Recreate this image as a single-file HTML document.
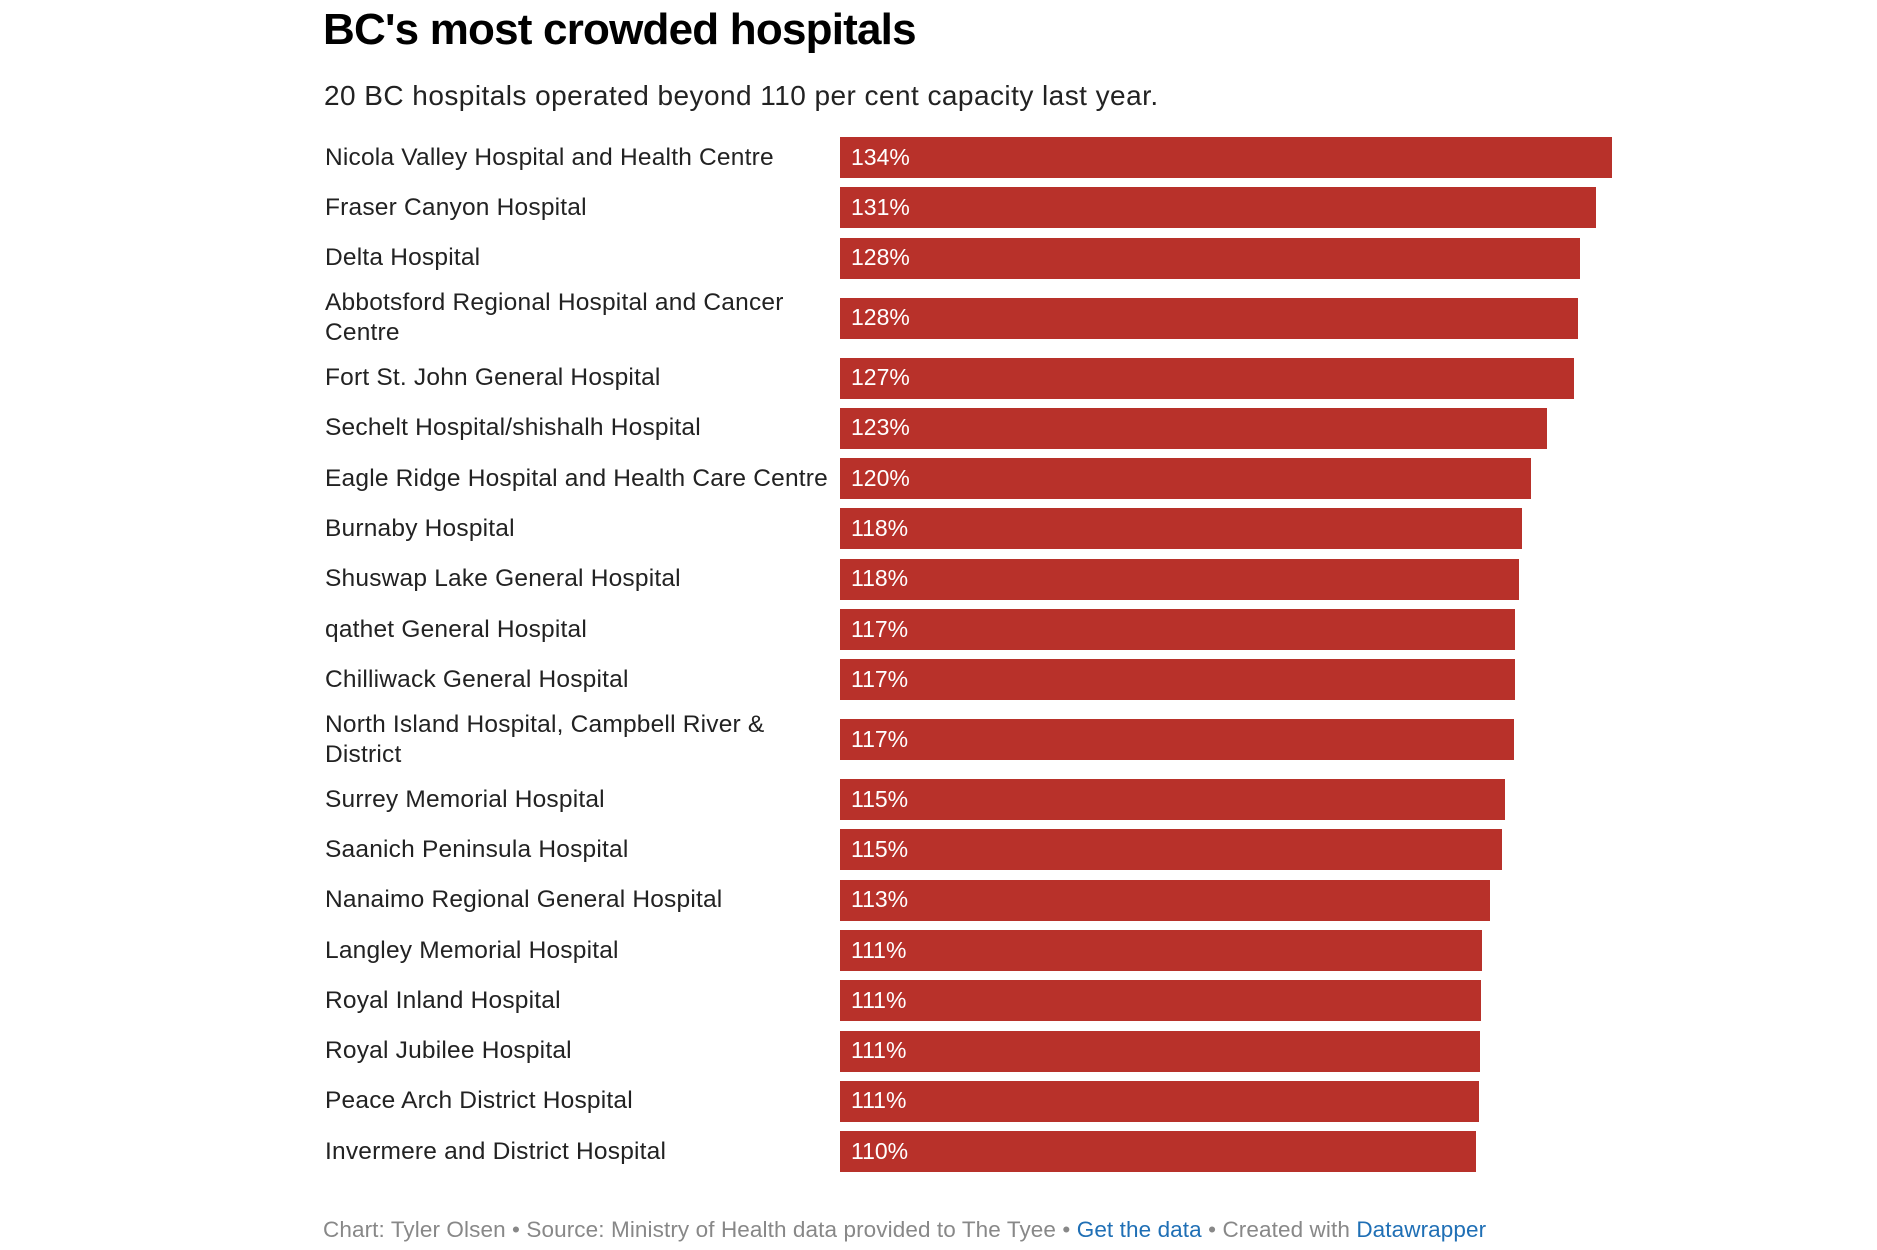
<!DOCTYPE html>
<html><head><meta charset="utf-8">
<style>
body{margin:0;width:1877px;height:1250px;background:#fff;font-family:"Liberation Sans",Arial,sans-serif;position:relative;overflow:hidden}
#title{position:absolute;left:323px;top:5px;font-size:44px;font-weight:bold;color:#000;letter-spacing:-0.8px}
#sub{position:absolute;left:324px;top:80px;font-size:28px;color:#222;letter-spacing:0.45px}
.lbl{position:absolute;left:325px;font-size:24.5px;color:#222;line-height:30px;width:470px;letter-spacing:0.2px;white-space:nowrap}
.lbl.wrap{white-space:normal}
.bar{position:absolute;background:#b8312a}
.val{position:absolute;font-size:23px;color:#fff;line-height:30px}
#foot{position:absolute;left:323px;top:1217px;font-size:22.5px;color:#888;letter-spacing:0.1px}
#foot a{color:#1f6fb5;text-decoration:none}
</style></head><body>
<div id="title">BC's most crowded hospitals</div>
<div id="sub">20 BC hospitals operated beyond 110 per cent capacity last year.</div>
<div id="chart"></div>
<div id="foot">Chart: Tyler Olsen • Source: Ministry of Health data provided to The Tyee • <a>Get the data</a> • Created with <a>Datawrapper</a></div>
<script>
const categories=["Nicola Valley Hospital and Health Centre","Fraser Canyon Hospital","Delta Hospital","Abbotsford Regional Hospital and Cancer Centre","Fort St. John General Hospital","Sechelt Hospital/shishalh Hospital","Eagle Ridge Hospital and Health Care Centre","Burnaby Hospital","Shuswap Lake General Hospital","qathet General Hospital","Chilliwack General Hospital","North Island Hospital, Campbell River & District","Surrey Memorial Hospital","Saanich Peninsula Hospital","Nanaimo Regional General Hospital","Langley Memorial Hospital","Royal Inland Hospital","Royal Jubilee Hospital","Peace Arch District Hospital","Invermere and District Hospital"];
const values=[134,131.2,128.5,128.1,127.4,122.7,120,118.3,117.9,117.1,117.1,117,115.4,114.9,112.8,111.4,111.2,111.1,110.9,110.4];
const labels=["134%","131%","128%","128%","127%","123%","120%","118%","118%","117%","117%","117%","115%","115%","113%","111%","111%","111%","111%","110%"];
const wrapped=[3,11];
const chart=document.getElementById('chart');
const x0=840, pxPer=(1612-840)/134;
function xScale(v){return v*pxPer;}
let y=157.6;
categories.forEach((c,i)=>{
  const w=wrapped.includes(i);
  if(w) y+=9.6;
  const lbl=document.createElement('div');
  lbl.className=w?'lbl wrap':'lbl';
  
  
  lbl.textContent=c;
  lbl.style.top=(y-(w?30:15))+'px';
  chart.appendChild(lbl);
  const b=document.createElement('div');
  b.className='bar';
  
  
  b.style.left=x0+'px';b.style.top=(y-20.5)+'px';b.style.height='41px';b.style.width=xScale(values[i])+'px';
  chart.appendChild(b);
  const v=document.createElement('div');
  v.className='val';
  
  
  v.textContent=labels[i];
  v.style.left='851px';v.style.top=(y-16)+'px';
  chart.appendChild(v);
  y+=50.3;
  if(w) y+=9.6;
});
</script>
</body></html>
